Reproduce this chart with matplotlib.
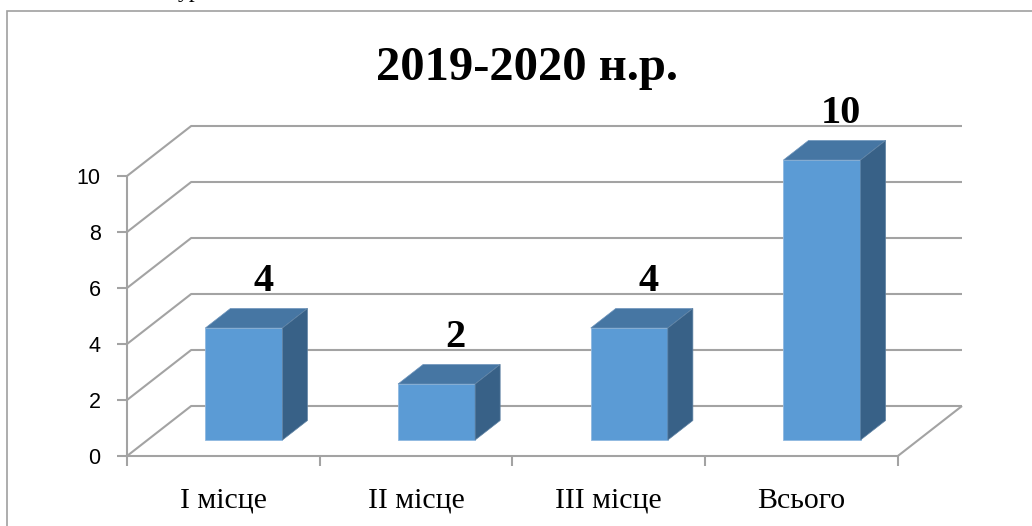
import matplotlib
matplotlib.use('Agg')
import matplotlib.pyplot as plt
from matplotlib.patches import Polygon, Rectangle

# chart data
categories = ['I місце', 'II місце', 'III місце', 'Всього']
values = [4, 2, 4, 10]
yticks = [0, 2, 4, 6, 8, 10]
title = '2019-2020 н.р.'

# colours
face_color = '#5b9bd5'
top_color = '#4676a3'
side_color = '#386187'
grid_color = '#a3a3a3'

# fake 3d depth (in data units)
depth_x = 0.333
depth_y = 1.786
bar_front = 0.32   # depth fraction of bar front face
bar_back = 0.71    # depth fraction of bar back face
bar_width = 0.4

W, H = 1032, 526
fig = plt.figure(figsize=(W / 100, H / 100), dpi=100)

# axes box in pixels (front plane origin at 127,456)
left, bottom, right, top = 127, 456, 962, 126
ax = fig.add_axes([left / W, (H - bottom) / H, (right - left) / W, (bottom - top) / H])
n = len(categories)
ax.set_xlim(0, n + depth_x)
ax.set_ylim(0, max(yticks) + depth_y)
for s in ax.spines.values():
    s.set_visible(False)

# gridlines going back
gkw = dict(color=grid_color, lw=1.5, zorder=1, clip_on=False, solid_capstyle='butt')
for v in yticks:
    ax.plot([0, depth_x, n + depth_x], [v, v + depth_y, v + depth_y], **gkw)
# floor edges and front axes
ax.plot([0, n, n + depth_x], [0, 0, depth_y], **gkw)
ax.plot([0, 0], [0, max(yticks)], **gkw)

# ticks
ax.set_yticks(yticks)
ax.set_yticklabels([str(t) for t in yticks], fontsize=15.5, family='Liberation Sans')
ax.set_xticks(range(n + 1))
ax.set_xticklabels([])
ax.set_xticks([i + 0.5 for i in range(n)], minor=True)
ax.set_xticklabels(categories, minor=True, fontsize=21.5, family='Liberation Serif')
ax.tick_params(axis='y', length=7, width=1.5, color=grid_color, pad=12)
ax.tick_params(axis='x', which='major', length=7, width=1.5, color=grid_color, direction='out')
ax.tick_params(axis='x', which='minor', length=0, pad=23)

# bars: front face via ax.bar, top and side as polygons
x0 = [i + 0.5 + bar_front * depth_x for i in range(n)]
base = bar_front * depth_y
ddx = (bar_back - bar_front) * depth_x
ddy = (bar_back - bar_front) * depth_y
ax.bar(x0, values, width=bar_width, bottom=base, color=face_color,
       edgecolor='#8fb8e0', linewidth=0.6, zorder=3)
for xc, v in zip(x0, values):
    xl, xr = xc - bar_width / 2, xc + bar_width / 2
    yt = base + v
    ax.add_patch(Polygon([(xl, yt), (xr, yt), (xr + ddx, yt + ddy), (xl + ddx, yt + ddy)],
                         closed=True, facecolor=top_color, edgecolor='#6c93bb', lw=0.5, zorder=3))
    ax.add_patch(Polygon([(xr, base), (xr + ddx, base + ddy), (xr + ddx, yt + ddy), (xr, yt)],
                         closed=True, facecolor=side_color, edgecolor='#5f82a3', lw=0.5, zorder=3))
    ax.text(xc + 0.3 * depth_x, yt + ddy + 0.3, str(v), ha='center', va='bottom',
            fontsize=29, fontweight='bold', family='Liberation Serif', zorder=5)

# title
fig.text(527 / W, 1 - 68 / H, title, ha='center', va='center', fontsize=35,
         fontweight='bold', family='Liberation Serif')

# chart frame and a bit of page text above it
fig.patches.append(Rectangle((7 / W, -0.1), 1.2, 0.1 + (H - 11) / H,
                             transform=fig.transFigure, fill=False,
                             edgecolor='#a0a0a0', lw=1.2))
fig.text(178 / W, 1 + 3 / H, 'ур', ha='left', va='baseline', fontsize=17,
         family='Liberation Serif')

fig.savefig('out.png', dpi=100)
